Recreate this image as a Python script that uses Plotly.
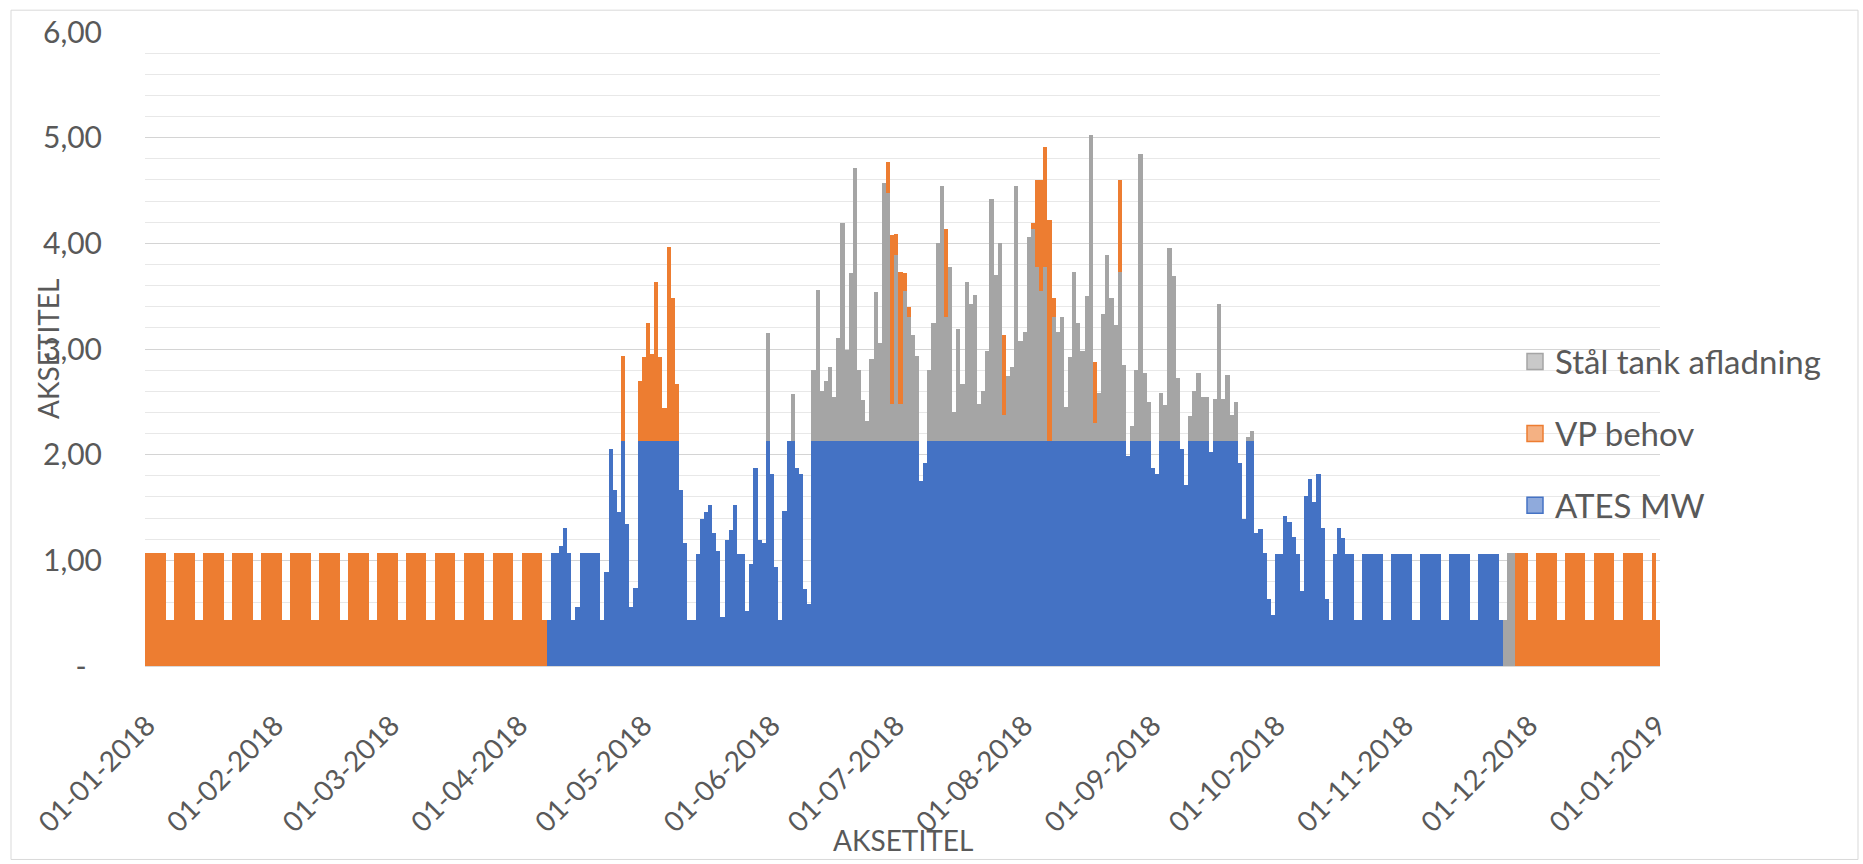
import pandas as pd
import plotly.graph_objects as go

# ---------------- data ----------------
DATES = pd.date_range("2018-01-01", "2019-01-01", freq="D")          # 366 daily bars
TICK_DATES = pd.date_range("2018-01-01", "2019-01-01", freq="MS")
TICK_TEXT = [d.strftime("%d-%m-%Y") for d in TICK_DATES]
Y_TICKS = [0, 1, 2, 3, 4, 5, 6]
Y_TICK_TEXT = ["-\u00a0\u00a0", "1,00", "2,00", "3,00", "4,00", "5,00", "6,00"]

# one row per week (Mon..Sun), starting Monday 01-01-2018
ATES_MW = [
    0, 0, 0, 0, 0, 0, 0,
    0, 0, 0, 0, 0, 0, 0,
    0, 0, 0, 0, 0, 0, 0,
    0, 0, 0, 0, 0, 0, 0,
    0, 0, 0, 0, 0, 0, 0,
    0, 0, 0, 0, 0, 0, 0,
    0, 0, 0, 0, 0, 0, 0,
    0, 0, 0, 0, 0, 0, 0,
    0, 0, 0, 0, 0, 0, 0,
    0, 0, 0, 0, 0, 0, 0,
    0, 0, 0, 0, 0, 0, 0,
    0, 0, 0, 0, 0, 0, 0,
    0, 0, 0, 0, 0, 0, 0,
    0, 0, 0, 0, 0, 0, 0.44,
    1.07, 1.07, 1.14, 1.31, 1.07, 0.44, 0.56,
    1.07, 1.07, 1.07, 1.07, 1.07, 0.44, 0.89,
    2.05, 1.67, 1.46, 2.13, 1.34, 0.56, 0.74,
    2.13, 2.13, 2.13, 2.13, 2.13, 2.13, 2.13,
    2.13, 2.13, 2.13, 1.67, 1.16, 0.44, 0.44,
    1.06, 1.39, 1.46, 1.52, 1.26, 1.09, 0.46,
    1.19, 1.29, 1.52, 1.06, 1.06, 0.52, 0.97,
    1.87, 1.19, 1.16, 2.13, 1.82, 0.94, 0.44,
    1.47, 2.13, 2.13, 1.87, 1.82, 0.73, 0.59,
    2.13, 2.13, 2.13, 2.13, 2.13, 2.13, 2.13,
    2.13, 2.13, 2.13, 2.13, 2.13, 2.13, 2.13,
    2.13, 2.13, 2.13, 2.13, 2.13, 2.13, 2.13,
    2.13, 2.13, 2.13, 2.13, 2.13, 1.75, 1.92,
    2.13, 2.13, 2.13, 2.13, 2.13, 2.13, 2.13,
    2.13, 2.13, 2.13, 2.13, 2.13, 2.13, 2.13,
    2.13, 2.13, 2.13, 2.13, 2.13, 2.13, 2.13,
    2.13, 2.13, 2.13, 2.13, 2.13, 2.13, 2.13,
    2.13, 2.13, 2.13, 2.13, 2.13, 2.13, 2.13,
    2.13, 2.13, 2.13, 2.13, 2.13, 2.13, 2.13,
    2.13, 2.13, 2.13, 2.13, 2.13, 2.13, 1.99,
    2.13, 2.13, 2.13, 2.13, 2.13, 1.87, 1.82,
    2.13, 2.13, 2.13, 2.13, 2.13, 2.05, 1.71,
    2.13, 2.13, 2.13, 2.13, 2.13, 2.03, 2.13,
    2.13, 2.13, 2.13, 2.13, 2.13, 1.92, 1.39,
    2.13, 2.13, 1.26, 1.30, 1.07, 0.63, 0.48,
    1.06, 1.06, 1.42, 1.36, 1.22, 1.06, 0.71,
    1.61, 1.77, 1.55, 1.82, 1.31, 0.63, 0.44,
    1.06, 1.31, 1.21, 1.06, 1.06, 0.44, 0.44,
    1.06, 1.06, 1.06, 1.06, 1.06, 0.44, 0.44,
    1.06, 1.06, 1.06, 1.06, 1.06, 0.44, 0.44,
    1.06, 1.06, 1.06, 1.06, 1.06, 0.44, 0.44,
    1.06, 1.06, 1.06, 1.06, 1.06, 0.44, 0.44,
    1.06, 1.06, 1.06, 1.06, 1.06, 0.44, 0,
    0, 0, 0, 0, 0, 0, 0,
    0, 0, 0, 0, 0, 0, 0,
    0, 0, 0, 0, 0, 0, 0,
    0, 0, 0, 0, 0, 0, 0,
    0, 0, 0, 0, 0, 0, 0,
    0, 0,
]

VP_BEHOV = [
    1.07, 1.07, 1.07, 1.07, 1.07, 0.44, 0.44,
    1.07, 1.07, 1.07, 1.07, 1.07, 0.44, 0.44,
    1.07, 1.07, 1.07, 1.07, 1.07, 0.44, 0.44,
    1.07, 1.07, 1.07, 1.07, 1.07, 0.44, 0.44,
    1.07, 1.07, 1.07, 1.07, 1.07, 0.44, 0.44,
    1.07, 1.07, 1.07, 1.07, 1.07, 0.44, 0.44,
    1.07, 1.07, 1.07, 1.07, 1.07, 0.44, 0.44,
    1.07, 1.07, 1.07, 1.07, 1.07, 0.44, 0.44,
    1.07, 1.07, 1.07, 1.07, 1.07, 0.44, 0.44,
    1.07, 1.07, 1.07, 1.07, 1.07, 0.44, 0.44,
    1.07, 1.07, 1.07, 1.07, 1.07, 0.44, 0.44,
    1.07, 1.07, 1.07, 1.07, 1.07, 0.44, 0.44,
    1.07, 1.07, 1.07, 1.07, 1.07, 0.44, 0.44,
    1.07, 1.07, 1.07, 1.07, 1.07, 0.44, 0,
    0, 0, 0, 0, 0, 0, 0,
    0, 0, 0, 0, 0, 0, 0,
    0, 0, 0, 0.80, 0, 0, 0,
    0.57, 0.79, 1.12, 0.82, 1.50, 0.79, 0.31,
    1.84, 1.35, 0.54, 0, 0, 0, 0,
    0, 0, 0, 0, 0, 0, 0,
    0, 0, 0, 0, 0, 0, 0,
    0, 0, 0, 0, 0, 0, 0,
    0, 0, 0, 0, 0, 0, 0,
    0, 0, 0, 0, 0, 0, 0,
    0, 0, 0, 0, 0, 0, 0,
    0, 0, 0, 0, 0.29, 1.60, 0.20,
    1.25, 0.17, 0.10, 0, 0, 0, 0,
    0, 0, 0, 0, 0.84, 0, 0,
    0, 0, 0, 0, 0, 0, 0,
    0, 0, 0, 0, 0.75, 0, 0,
    0, 0, 0, 0, 0.05, 0.82, 1.05,
    1.13, 2.09, 0.18, 0, 0, 0, 0,
    0, 0, 0, 0, 0, 0.58, 0,
    0, 0, 0, 0, 0.87, 0, 0,
    0, 0, 0, 0, 0, 0, 0,
    0, 0, 0, 0, 0, 0, 0,
    0, 0, 0, 0, 0, 0, 0,
    0, 0, 0, 0, 0, 0, 0,
    0, 0, 0, 0, 0, 0, 0,
    0, 0, 0, 0, 0, 0, 0,
    0, 0, 0, 0, 0, 0, 0,
    0, 0, 0, 0, 0, 0, 0,
    0, 0, 0, 0, 0, 0, 0,
    0, 0, 0, 0, 0, 0, 0,
    0, 0, 0, 0, 0, 0, 0,
    0, 0, 0, 0, 0, 0, 0,
    0, 0, 0, 0, 0, 0, 0,
    0, 0, 1.07, 1.07, 1.07, 0.44, 0.44,
    1.07, 1.07, 1.07, 1.07, 1.07, 0.44, 0.44,
    1.07, 1.07, 1.07, 1.07, 1.07, 0.44, 0.44,
    1.07, 1.07, 1.07, 1.07, 1.07, 0.44, 0.44,
    1.07, 1.07, 1.07, 1.07, 1.07, 0.44, 0.44,
    1.07, 0.44,
]

STAAL_TANK = [
    0, 0, 0, 0, 0, 0, 0,
    0, 0, 0, 0, 0, 0, 0,
    0, 0, 0, 0, 0, 0, 0,
    0, 0, 0, 0, 0, 0, 0,
    0, 0, 0, 0, 0, 0, 0,
    0, 0, 0, 0, 0, 0, 0,
    0, 0, 0, 0, 0, 0, 0,
    0, 0, 0, 0, 0, 0, 0,
    0, 0, 0, 0, 0, 0, 0,
    0, 0, 0, 0, 0, 0, 0,
    0, 0, 0, 0, 0, 0, 0,
    0, 0, 0, 0, 0, 0, 0,
    0, 0, 0, 0, 0, 0, 0,
    0, 0, 0, 0, 0, 0, 0,
    0, 0, 0, 0, 0, 0, 0,
    0, 0, 0, 0, 0, 0, 0,
    0, 0, 0, 0, 0, 0, 0,
    0, 0, 0, 0, 0, 0, 0,
    0, 0, 0, 0, 0, 0, 0,
    0, 0, 0, 0, 0, 0, 0,
    0, 0, 0, 0, 0, 0, 0,
    0, 0, 0, 1.02, 0, 0, 0,
    0, 0, 0.44, 0, 0, 0, 0,
    0.67, 1.43, 0.47, 0.57, 0.70, 0.42, 0.97,
    2.06, 0.86, 1.59, 2.58, 0.67, 0.39, 0.19,
    0.78, 1.41, 0.93, 2.44, 2.35, 0.35, 1.76,
    0.35, 1.42, 1.17, 1.00, 0.80, 0, 0,
    0.67, 1.12, 1.87, 2.41, 1.17, 1.65, 0.27,
    1.06, 0.54, 1.50, 1.30, 1.38, 0.35, 0.47,
    0.85, 2.29, 1.57, 1.87, 0.25, 0.61, 0.70,
    2.41, 0.95, 1.03, 1.93, 2.01, 1.65, 1.42,
    1.65, 0, 1.17, 1.03, 1.17, 0.32, 0.79,
    1.60, 1.12, 0.85, 1.37, 2.90, 0.17, 0.45,
    1.20, 1.76, 1.35, 1.10, 1.60, 0.72, 0,
    0.14, 0.67, 2.72, 0.64, 0.37, 0, 0,
    0.45, 0.34, 1.83, 1.56, 0.60, 0, 0,
    0.24, 0.47, 0.64, 0.42, 0.42, 0, 0.40,
    1.30, 0.40, 0.62, 0.25, 0.37, 0, 0,
    0.04, 0.09, 0, 0, 0, 0, 0,
    0, 0, 0, 0, 0, 0, 0,
    0, 0, 0, 0, 0, 0, 0,
    0, 0, 0, 0, 0, 0, 0,
    0, 0, 0, 0, 0, 0, 0,
    0, 0, 0, 0, 0, 0, 0,
    0, 0, 0, 0, 0, 0, 0,
    0, 0, 0, 0, 0, 0, 0,
    0, 0, 0, 0, 0, 0, 0.44,
    1.07, 1.07, 0, 0, 0, 0, 0,
    0, 0, 0, 0, 0, 0, 0,
    0, 0, 0, 0, 0, 0, 0,
    0, 0, 0, 0, 0, 0, 0,
    0, 0, 0, 0, 0, 0, 0,
    0, 0,
]

SERIES = [
    # name, values, bar colour, legend fill, legend rank
    ("ATES MW", ATES_MW, "#4472C4", "#8FAADC", 3),
    ("Stål tank afladning", STAAL_TANK, "#A5A5A5", "#C9C9C9", 1),
    ("VP behov", VP_BEHOV, "#ED7D31", "#F4B183", 2),
]

# ---------------- figure ----------------
FONT = "Lato"
GREY_TXT = "#595959"

fig = go.Figure()
for name, vals, col, light, rank in SERIES:
    fig.add_bar(x=DATES, y=vals, name=name, marker=dict(color=col, line_width=0),
                showlegend=False, legendgroup=name)
for name, vals, col, light, rank in SERIES:
    # legend entry (square swatch like the original)
    fig.add_scatter(x=[None], y=[None], mode="markers", name=name, legendgroup=name,
                    legendrank=rank,
                    marker=dict(symbol="square", size=16, color=light,
                                line=dict(color=col, width=1.5)))

L, R, T, B = 145, 203, 27, 198
W, H = 1863, 864
pw, ph = W - L - R, H - T - B

def px_x(x):
    return (x - L) / pw

def px_y(y):
    return (H - B - y) / ph

fig.update_layout(
    width=W, height=H,
    margin=dict(l=L, r=R, t=T, b=B),
    barmode="stack", bargap=0,
    plot_bgcolor="white", paper_bgcolor="white",
    font=dict(family=FONT, color=GREY_TXT, size=29),
    showlegend=True,
    legend=dict(x=px_x(1515), y=px_y(331), xanchor="left", yanchor="top",
                traceorder="grouped", tracegroupgap=26, itemsizing="trace",
                bgcolor="rgba(0,0,0,0)", font=dict(size=33, color=GREY_TXT, family=FONT)),
    xaxis=dict(type="date", range=["2017-12-31 12:00", "2019-01-01 12:00"],
               tickmode="array", tickvals=TICK_DATES, ticktext=TICK_TEXT, tickangle=-45,
               tickfont=dict(size=28, color=GREY_TXT, family=FONT),
               ticks="outside", ticklen=31, tickcolor="rgba(0,0,0,0)",
               showgrid=False, showline=True, linecolor="#D9D9D9", linewidth=1, zeroline=False),
    yaxis=dict(range=[0, 6], tickmode="array", tickvals=Y_TICKS, ticktext=Y_TICK_TEXT,
               tickfont=dict(size=30, color=GREY_TXT, family=FONT),
               ticks="outside", ticklen=36, tickcolor="rgba(0,0,0,0)",
               showgrid=True, gridcolor="#D4D4D4", gridwidth=1, zeroline=False, showline=False,
               minor=dict(tickmode="linear", tick0=0, dtick=0.2, showgrid=True,
                          gridcolor="#E8E8E8", gridwidth=1, ticks="")),
    annotations=[
        dict(text="AKSETITEL", xref="paper", yref="paper", x=0.5, y=px_y(841),
             showarrow=False, font=dict(size=28, color=GREY_TXT, family=FONT),
             xanchor="center", yanchor="middle"),
        dict(text="AKSETITEL", xref="paper", yref="paper", x=px_x(48), y=0.5, textangle=-90,
             showarrow=False, font=dict(size=28, color=GREY_TXT, family=FONT),
             xanchor="center", yanchor="middle"),
    ],
    shapes=[dict(type="rect", xref="paper", yref="paper", x0=px_x(11), x1=px_x(1858),
                 y0=px_y(861), y1=px_y(5), line=dict(color="#D9D9D9", width=1), layer="below")],
)

fig.write_html("out.html", config={"displayModeBar": False},
               post_script="document.body.style.margin='0';")
